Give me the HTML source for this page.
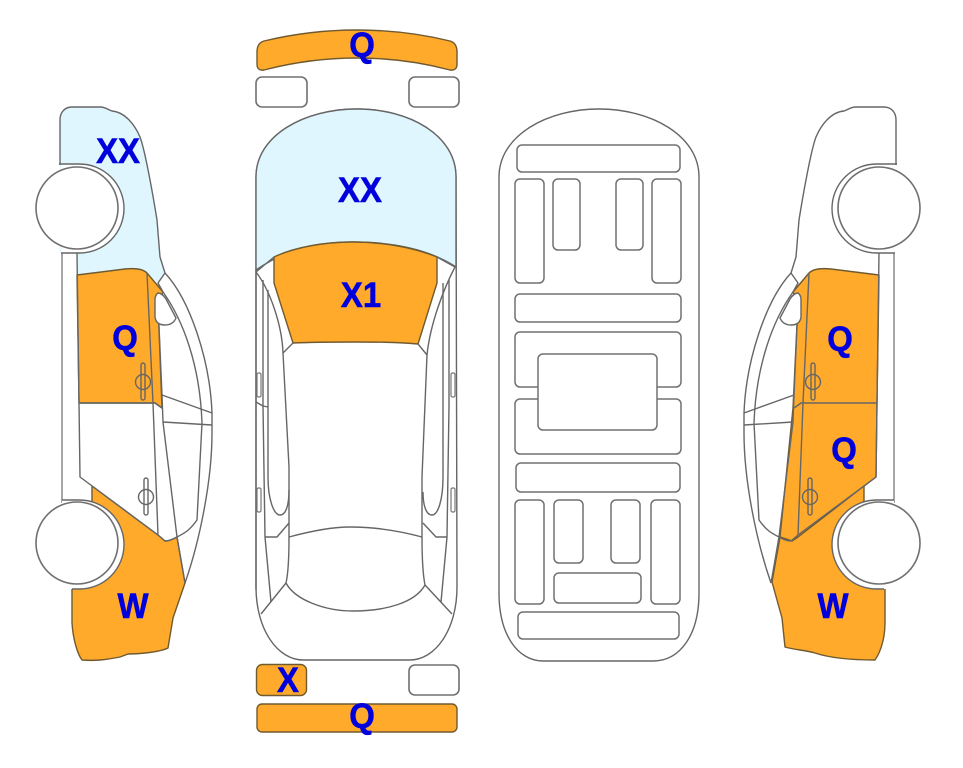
<!DOCTYPE html>
<html><head><meta charset="utf-8"><style>
html,body{margin:0;padding:0;background:#fff;width:963px;height:768px;overflow:hidden}
svg{display:block}
text{font-family:"Liberation Sans",sans-serif;font-weight:bold;font-size:35px;fill:#0000dc;stroke:#0000dc;stroke-width:.6;text-anchor:middle;transform-box:fill-box;transform-origin:center;transform:scaleX(.94)}
.l{fill:none;stroke:#666;stroke-width:1.4;stroke-linejoin:round}
.t{fill:#fff;stroke:#707070;stroke-width:1.6}
.o{fill:#ffaa2b;stroke:#705a30;stroke-width:1.4;stroke-linejoin:round}
.b{fill:#dff6ff;stroke:#666;stroke-width:1.4}
.r{fill:#fff;stroke:#707070;stroke-width:1.5}
</style></head><body>
<svg width="963" height="768" viewBox="0 0 963 768" xmlns="http://www.w3.org/2000/svg">
<defs>
<g id="sideLines" class="l">
<path d="M60,165 L60,120 C60,112 65,107 72,107 L100,107 C106,107 108,110 112,111 C125,112 135,125 140,137 C145,150 153,195 157,220 L160,257 L165,273 C190,300 210,360 212,413 L212,433 C212,480 200,540 185,583"/>
<path d="M62,253 L62,503" stroke="#808080"/>
<path d="M77,253 L79,403 L80,477 L158,535 L165,541 Q170,541 177,537"/>
<path d="M147,273 L153,403 L158,535"/>
<path d="M165,273 L158,283 L163,292 C183,320 200,365 202,423 L197,520 C190,530 185,533 177,537"/>
<path d="M158,303 L162,395 L163,422 L177,537 L185,583"/>
<path d="M162,395 L212,413 M163,422 L212,425 M79,403 L155,403 L162,408"/>
<path d="M141,365 a2,2 0 0 1 4,0 L145,398 a2,2 0 0 1 -4,0Z"/>
<ellipse cx="143" cy="382" rx="7.500" ry="7.500"/>
<path d="M144,480 a2,2 0 0 1 4,0 L148,513 a2,2 0 0 1 -4,0Z"/>
<ellipse cx="146" cy="497" rx="7.500" ry="7.500"/>
</g>
<g id="arches">
<path d="M59,164 L79.500,164 A44.500,44.500 0 0 1 79.500,253 L61,253 L61,164Z" fill="#fff"/>
<path d="M62,500 L79.500,500 A44.500,44.500 0 0 1 79.500,589 L72,589 L62,589Z" fill="#fff"/>
<path class="l" d="M59,164 L79.500,164 A44.500,44.500 0 0 1 79.500,253 L61,253"/>
<path class="l" d="M62,500 L79.500,500 A44.500,44.500 0 0 1 79.500,589 L72,589"/>
</g>
<path id="blob" d="M158,293 Q155,295 155,300 L155,317 Q156,325 165,325 Q173,325 176,318 L166,299 Q162,293 158,293Z" fill="#fff" stroke="#666" stroke-width="1.4"/>
</defs>

<!-- Left car fills -->
<path fill="#dff6ff" d="M60,165 L60,120 C60,112 65,107 72,107 L100,107 C106,107 108,110 112,111 C125,112 135,125 140,137 C145,150 153,195 157,220 L160,257 L165,273 L158,283 L147,273 L77,275 L77,253 L60,253Z"/>
<path class="o" d="M77,275 L125,269 C135,268 143,269 147,273 L163,292 L158,303 L162,408 L155,403 L79,403Z"/>
<path class="o" d="M92,486 L158,535 L165,541 Q170,541 177,537 L185,583 L173,618 L168,648 C160,652 140,654 128,654 L120,657 C105,660 95,661 82,660 C78,655 73,640 72,623 L72,589 L92,520Z"/>
<use href="#sideLines"/>
<use href="#blob"/>
<use href="#arches"/>
<circle class="t" cx="77" cy="208" r="41"/>
<circle class="t" cx="77" cy="543" r="41"/>

<!-- Right car fills -->
<g>
<path class="o" d="M879,275 L831,269 C821,268 813,269 809,273 L793,292 L798,303 L793,408 L780,537 L792,541 L798,537 L876,477 L877,403Z"/>
<path class="o" d="M864,486 L798,537 L792,541 L780,537 L772,582 L782,618 L785,647 C795,650 805,650 815,653 C830,658 850,660 875,660 C882,650 885,635 885,623 L885,589 L864,520Z"/>
<g transform="translate(956,0) scale(-1,1)">
<use href="#sideLines"/>
<use href="#blob"/>
<use href="#arches"/>
<circle class="t" cx="77" cy="208" r="41"/>
<circle class="t" cx="77" cy="543" r="41"/>
</g>
</g>

<!-- Center car -->
<path class="o" d="M257,52 Q257,43 264,41 Q310,30 357,30 Q405,30 450,41 Q457,43 457,52 L457,64 Q457,71 450,70 Q405,58 357,58 Q310,58 264,70 Q257,71 257,64Z"/>
<rect class="t" x="256" y="77" width="51" height="30" rx="6"/>
<rect class="t" x="409" y="77" width="50" height="30" rx="6"/>
<path class="l" d="M256,587 L256,177 C256,135 305,109 357,109 C409,109 456,135 456,177 L457,587 C457,630 435,660 410,660 L303,660 C278,660 256,630 256,587Z" stroke="#707070"/>
<path class="b" d="M256,270 L256,177 C256,135 305,109 357,109 C409,109 456,135 456,177 L456,267 C430,250 395,242 353,242 C315,242 285,250 256,270Z"/>
<path class="o" d="M274,257 C295,247 325,242 353,242 C385,242 415,248 437,257 L437,283 L418,344 C395,342 375,342 353,342 C335,342 315,342 293,343 L274,283Z"/>
<g class="l">
<path d="M256,270 L256,590"/>
<path d="M256,272 L274,257 M455,267 L437,257"/>
<path d="M256,272 C270,290 282,325 283,353 L293,343 M455,267 C443,290 430,325 427,355 L418,344"/>
<path d="M283,353 L289,467 L289,537 Q289,570 286,583 M427,355 L422,477 L422,537 Q422,570 425,585"/>
<path d="M263,280 L263,406 L265,537 L271,602 M449,280 L449,406 L447,537 L441,602"/>
<path d="M268,290 L268,477 C268,500 274,515 280,515 C286,515 289,505 289,490 M443,283 L443,477 C443,500 438,515 432,515 C426,515 423,505 423,492"/>
<path d="M265,537 L277,537 L289,523 M447,537 L436,537 L423,523"/>
<path d="M256,402 L263,406 L268,407"/>
<path d="M289,537 C315,530 335,527 350,527 C375,527 400,531 422,537"/>
<path d="M286,583 C295,600 325,611 353,611 C385,611 415,603 425,585"/>
<path d="M286,583 L261,614 M425,585 L452,614"/>
</g>
<g class="r" style="stroke:#777;stroke-width:1.2">
<rect x="257" y="373" width="4" height="24" rx="1.500"/>
<rect x="257" y="488" width="4" height="24" rx="1.500"/>
<rect x="451" y="373" width="4" height="24" rx="1.500"/>
<rect x="451" y="488" width="4" height="24" rx="1.500"/>
</g>
<rect class="o" x="256.500" y="664.500" width="50" height="31" rx="6"/>
<rect class="t" x="409" y="665" width="50" height="30" rx="6"/>
<rect class="o" x="257" y="704" width="200" height="28" rx="5"/>

<!-- Third car -->
<path class="l" d="M499,593 L499,177 C499,135 548,109 599,109 C650,109 699,135 699,177 L699,593 C699,635 680,661 653,661 L543,661 C518,661 499,635 499,593Z" stroke="#707070"/>
<g class="r">
<rect x="517" y="145" width="163" height="27" rx="5"/>
<rect x="515" y="179" width="29" height="104" rx="5"/>
<rect x="553" y="179" width="27" height="71" rx="5"/>
<rect x="616" y="179" width="27" height="71" rx="5"/>
<rect x="652" y="179" width="29" height="104" rx="5"/>
<rect x="515" y="294" width="166" height="28" rx="5"/>
<rect x="515" y="332" width="166" height="55" rx="5"/>
<rect x="515" y="399" width="166" height="55" rx="5"/>
<rect x="538" y="354" width="119" height="76" rx="5"/>
<rect x="516" y="463" width="164" height="29" rx="5"/>
<rect x="515" y="500" width="29" height="104" rx="5"/>
<rect x="554" y="500" width="29" height="63" rx="5"/>
<rect x="611" y="500" width="29" height="63" rx="5"/>
<rect x="651" y="500" width="29" height="104" rx="5"/>
<rect x="554" y="573" width="87" height="30" rx="5"/>
<rect x="518" y="612" width="161" height="27" rx="5"/>
</g>

<!-- Labels -->
<text x="118" y="163">XX</text>
<text x="360" y="202">XX</text>
<text x="361" y="307">X1</text>
<text x="362" y="57">Q</text>
<text x="125" y="350">Q</text>
<text x="133" y="618">W</text>
<text x="288" y="692">X</text>
<text x="362" y="728">Q</text>
<text x="840" y="351">Q</text>
<text x="844" y="462">Q</text>
<text x="833" y="618">W</text>
</svg>
</body></html>
